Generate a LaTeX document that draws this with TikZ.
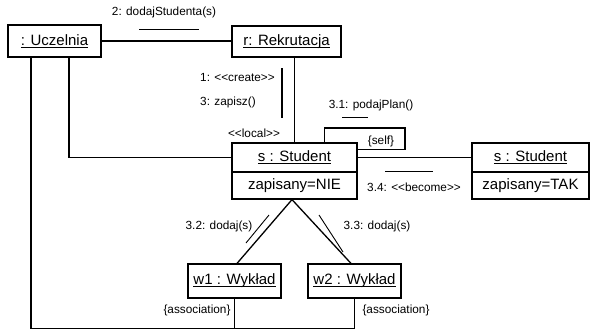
\documentclass[tikz,border=0pt]{standalone}
\usepackage{fontspec}
\setmainfont{Liberation Sans}
\usetikzlibrary{shadows}
% object name, underlined just below the baseline
\newcommand\objname[1]{\setbox0\hbox{#1}\rlap{\rule[-2.2pt]{\wd0}{0.9pt}}\box0}
\begin{document}
\begin{tikzpicture}[x=1pt,y=-1pt,
  obj/.style={draw, line width=1.2pt, fill=white, inner sep=0pt,
    font=\fontsize{15}{18}\selectfont,
    drop shadow={shadow xshift=0.8pt,shadow yshift=-0.8pt,fill=black,opacity=1}},
  link/.style={line width=1.3pt},
  msg/.style={line width=0.9pt},
  lbl/.style={font=\fontsize{11.8}{14}\selectfont, inner sep=0pt}]
\useasboundingbox (0,0) rectangle (595,330);

% objects
\node[obj, minimum width=93pt, minimum height=32pt] (ucz) at (54.5,41) {\objname{: Uczelnia}};
\node[obj, minimum width=109pt, minimum height=31pt] (rek) at (286.5,41.5) {\objname{r: Rekrutacja}};
\node[obj, minimum width=125pt, minimum height=29pt] (s1n) at (294.5,157.5) {\objname{s : Student}};
\node[obj, minimum width=125pt, minimum height=27pt] (s1a) at (294.5,185.5) {zapisany=NIE};
\node[obj, minimum width=117pt, minimum height=29pt] (s2n) at (530.5,157.5) {\objname{s : Student}};
\node[obj, minimum width=117pt, minimum height=27pt] (s2a) at (530.5,185.5) {zapisany=TAK};
\node[obj, minimum width=93pt, minimum height=34pt] (w1) at (234.5,281) {\objname{w1 : Wykład}};
\node[obj, minimum width=93pt, minimum height=34pt] (w2) at (354.5,281) {\objname{w2 : Wykład}};

% links
\coordinate (loopc) at (405,128);
\draw[link] (ucz.east) -- (ucz.east -| rek.west);
\draw[link] ([xshift=-23.5pt]ucz.south) -- ++(0,271) -| (w2.south);
\draw[link] (w1.south) -- ++(0,30);
\draw[link] ([xshift=14.5pt]ucz.south) |- (s1n.west);
\draw[link] (s1n.north |- rek.south) -- (s1n.north);
\draw[link] (s1n.east) -- (s2n.west);
\draw[link] ([xshift=30pt]s1n.north) |- (loopc) |- ([yshift=-7pt]s1n.north east);
\draw[link] ([xshift=-2.5pt]s1a.south) -- ([xshift=2.5pt]w1.north);
\draw[link] ([xshift=-2.5pt]s1a.south) -- ([xshift=-3.5pt]w2.north);

% messages
\node[lbl] (m2) at (164,12) {2: dodajStudenta(s)};
\coordinate (m2a) at (139,29); \coordinate (m2b) at (199,29);
\draw[msg] (m2a) -- (m2b);

\node[lbl, anchor=west] (m1) at (200,77) {1: <{}<create>{}>};
\node[lbl, anchor=west] (m3) at (200,102) {3: zapisz()};
\coordinate (m13a) at (282,68); \coordinate (m13b) at (282,118);
\draw[line width=1.8pt] (m13a) -- (m13b);

\node[lbl] (loc) at (254,133) {<{}<local>{}>};

\node[lbl] (m31) at (371,105) {3.1: podajPlan()};
\coordinate (m31a) at (342,117); \coordinate (m31b) at (368,117);
\draw[msg] (m31a) -- (m31b);
\node[lbl] (self) at (381,141) {\{self\}};

\node[lbl] (m34) at (414,187) {3.4: <{}<become>{}>};
\coordinate (m34a) at (385,171); \coordinate (m34b) at (433,171);
\draw[msg] (m34a) -- (m34b);

\node[lbl] (m32) at (219,226) {3.2: dodaj(s)};
\coordinate (m32a) at (246,243); \coordinate (m32b) at (269,215);
\draw[msg] (m32a) -- (m32b);

\node[lbl] (m33) at (377,226) {3.3: dodaj(s)};
\coordinate (m33a) at (319,215); \coordinate (m33b) at (343,252);
\draw[msg] (m33a) -- (m33b);

\node[lbl] (as1) at (197,310) {\{association\}};
\node[lbl] (as2) at (396,310) {\{association\}};
\end{tikzpicture}
\end{document}
